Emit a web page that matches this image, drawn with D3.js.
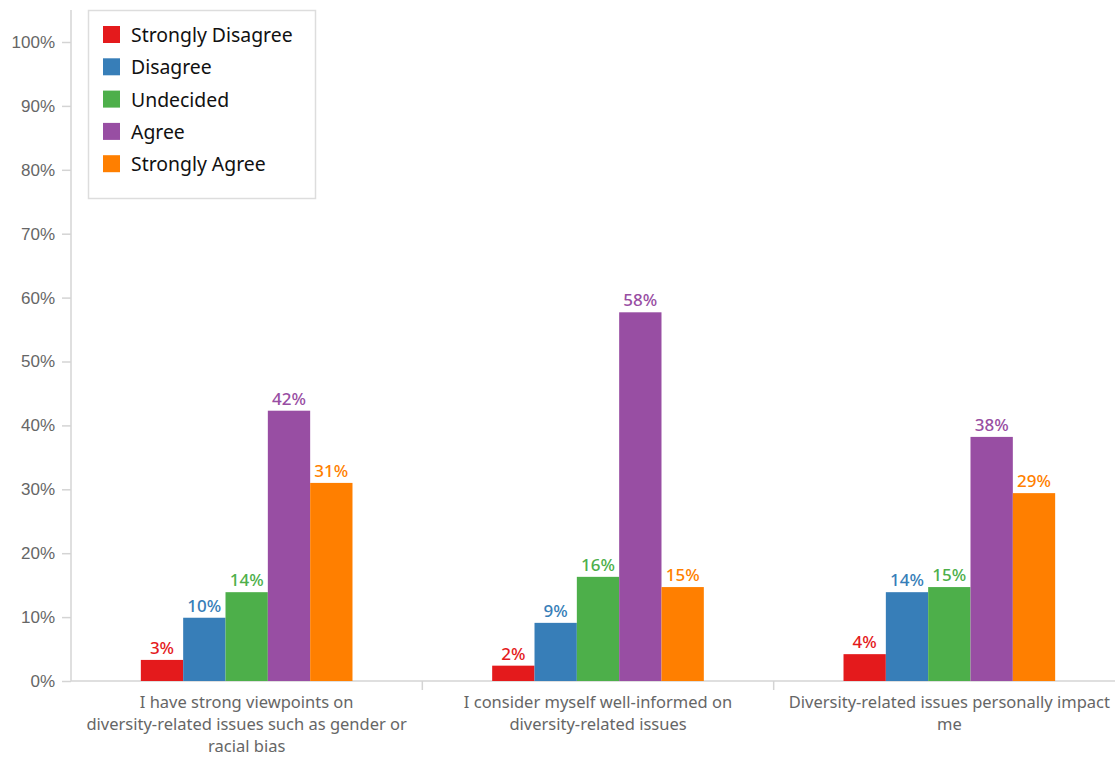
<!DOCTYPE html>
<html>
<head>
<meta charset="utf-8">
<script src="https://cdn.jsdelivr.net/npm/d3@7"></script>
<style>
  html, body { margin: 0; padding: 0; background: #fff; }
  svg { display: block; font-family: "Noto Sans", "Open Sans", sans-serif; }
</style>
</head>
<body>
<svg id="chart" width="1115" height="757"></svg>
<script>
// Survey statements (each one wrapped onto lines for the axis)
const categories = [
  ["I have strong viewpoints on", "diversity-related issues such as gender or", "racial bias"],
  ["I consider myself well-informed on", "diversity-related issues"],
  ["Diversity-related issues personally impact", "me"]
];
const seriesNames = ["Strongly Disagree", "Disagree", "Undecided", "Agree", "Strongly Agree"];
const seriesColors = ["#e41a1c", "#377eb8", "#4daf4a", "#984ea3", "#ff7f00"];

// Share of respondents (%), one array per response option, in statement order
const stronglyDisagree = [3.3, 2.4, 4.2];
const disagree        = [9.9, 9.1, 13.9];
const undecided       = [13.9, 16.3, 14.7];
const agree           = [42.3, 57.7, 38.2];
const stronglyAgree   = [31.0, 14.7, 29.4];
const seriesValues = [stronglyDisagree, disagree, undecided, agree, stronglyAgree];

const yTicks = [0, 10, 20, 30, 40, 50, 60, 70, 80, 90, 100];

const svg = d3.select("#chart");
const plotLeft = 71, plotRight = 1125, plotTop = 42, plotBottom = 681;

const x0 = d3.scaleBand().domain(d3.range(categories.length)).range([plotLeft, plotRight]).padding(0);
const x1 = d3.scaleBand().domain(d3.range(seriesNames.length)).range([0, x0.bandwidth()]).paddingInner(0).paddingOuter(1.65);
const y = d3.scaleLinear().domain([0, 100]).range([plotBottom, plotTop]);

// Y axis
const yAxis = svg.append("g").attr("transform", `translate(${plotLeft},0)`)
  .call(d3.axisLeft(y).tickValues(yTicks).tickFormat(d => d + "%").tickSize(9).tickPadding(7));
yAxis.select(".domain").remove();
yAxis.selectAll(".tick line").attr("stroke", "#d4d4d4").attr("stroke-width", 1.5);
yAxis.selectAll(".tick text").attr("fill", "#666").style("font-size", "17px").style("font-family", "inherit");
svg.append("line").attr("x1", plotLeft).attr("x2", plotLeft).attr("y1", 10).attr("y2", plotBottom)
  .attr("stroke", "#d4d4d4").attr("stroke-width", 1.5);

// X axis baseline and separators between statements
svg.append("line").attr("x1", plotLeft).attr("x2", 1115).attr("y1", plotBottom).attr("y2", plotBottom)
  .attr("stroke", "#d4d4d4").attr("stroke-width", 1.5);
svg.append("g").selectAll("line").data(d3.range(1, categories.length)).join("line")
  .attr("x1", d => x0(d)).attr("x2", d => x0(d))
  .attr("y1", plotBottom).attr("y2", plotBottom + 9)
  .attr("stroke", "#d4d4d4").attr("stroke-width", 1.5);

// Statement labels
svg.append("g").selectAll("text").data(categories).join("text")
  .attr("text-anchor", "middle")
  .attr("fill", "#666")
  .style("font-size", "16.5px")
  .attr("transform", (d, i) => `translate(${x0(i) + x0.bandwidth() / 2},${plotBottom + 27})`)
  .selectAll("tspan").data(d => d).join("tspan")
  .attr("x", 0).attr("dy", (d, i) => i === 0 ? 0 : 22).text(d => d);

// Bars
const groups = svg.append("g").selectAll("g").data(categories).join("g")
  .attr("transform", (d, i) => `translate(${x0(i)},0)`);

const cells = groups.selectAll("g").data((d, ci) => seriesValues.map((vals, si) => ({ si, v: vals[ci] })))
  .join("g");

cells.append("rect")
  .attr("x", d => x1(d.si))
  .attr("width", x1.bandwidth())
  .attr("y", d => y(d.v))
  .attr("height", d => plotBottom - y(d.v))
  .attr("fill", d => seriesColors[d.si]);

cells.append("text")
  .attr("x", d => x1(d.si) + x1.bandwidth() / 2)
  .attr("y", d => y(d.v) - 6)
  .attr("text-anchor", "middle")
  .attr("fill", d => seriesColors[d.si])
  .style("font-size", "17px")
  .style("font-weight", 500)
  .text(d => Math.round(d.v) + "%");

// Legend
const legend = svg.append("g");
legend.append("rect").attr("x", 88.5).attr("y", 10.5).attr("width", 227).attr("height", 188)
  .attr("fill", "#fff").attr("stroke", "#ddd").attr("stroke-width", 1.5);
const items = legend.selectAll("g.item").data(seriesNames).join("g").attr("class", "item")
  .attr("transform", (d, i) => `translate(103,${26 + i * 32.3})`);
items.append("rect").attr("width", 17).attr("height", 17).attr("fill", (d, i) => seriesColors[i]);
items.append("text").attr("x", 28).attr("y", 16).attr("fill", "#111")
  .style("font-size", "19.4px").text(d => d);
</script>
</body>
</html>
